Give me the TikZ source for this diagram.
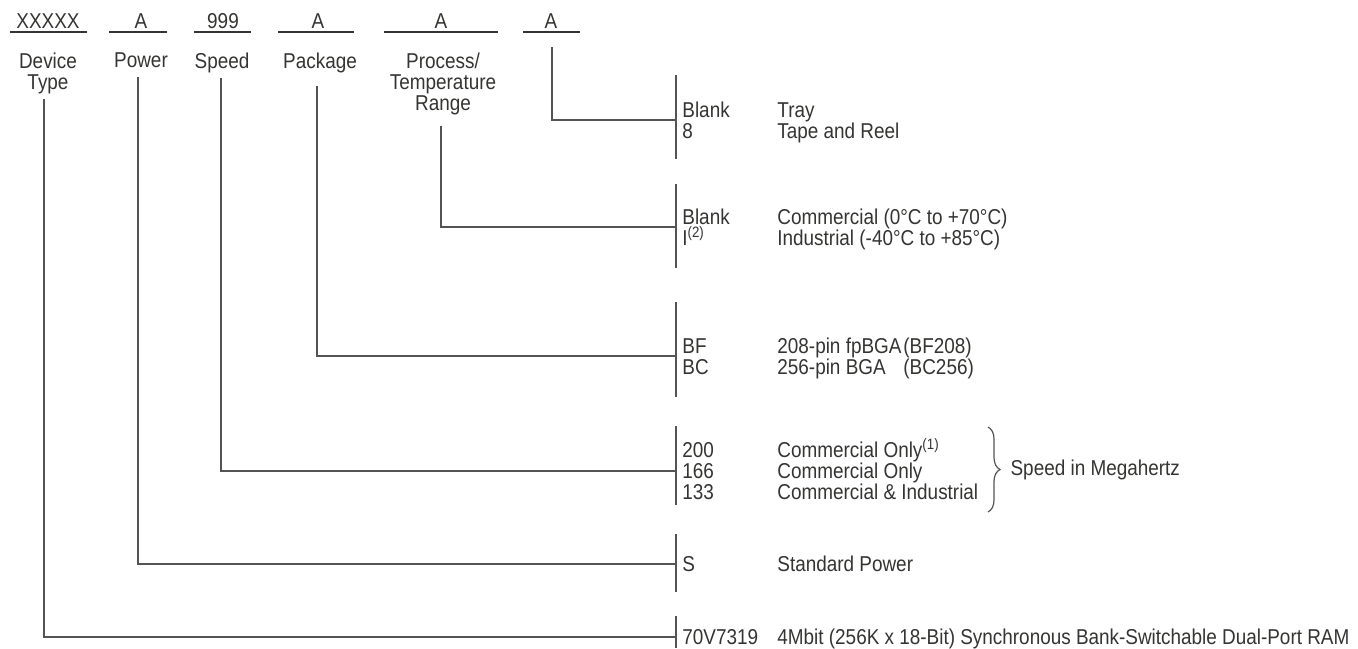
\documentclass[tikz,border=0pt]{standalone}
\usepackage{fontspec}
\setmainfont{Liberation Sans}[FakeStretch=0.88]
\usetikzlibrary{decorations.pathreplacing}
\definecolor{ink}{RGB}{52,52,50}
\definecolor{rulegray}{RGB}{84,84,82}
\newcommand\chartfont{\fontsize{10.75pt}{10.5pt}\selectfont}
\tikzset{
    partcode/.style={anchor=base},
    fieldname/.style={anchor=north, align=center},
    optcode/.style={anchor=base west},
    optdesc/.style={anchor=base west},
    lead/.style={draw=rulegray, line width=0.6pt},
    barline/.style={draw=rulegray, line width=0.6pt},
    underbar/.style={draw=ink, line width=0.6pt},
}
\begin{document}
\begin{tikzpicture}[
    x=0.5pt, y=-0.5pt,
    every node/.style={inner sep=0pt, text=ink, font=\chartfont}
]
\useasboundingbox (0,0) rectangle (1358,648);

% Part number fields
\foreach \t/\x/\n in {XXXXX/48/cdev, A/141/cpow, 999/223/cspd, A/318/cpkg, A/441/cproc, A/551/cship}
    \node[partcode] (\n) at (\x,28) {\t};
\foreach \l/\r in {10/87, 109/167, 194/251, 278/354, 384/498, 523/580}
    \draw[underbar] (\l,32) -- (\r,32);

% Field names
\node[fieldname] (fdev) at (48,52.5) {Device\\Type};
\node[fieldname] (fpow) at (141,52.5) {Power};
\node[fieldname] (fspd) at (222,52.5) {Speed};
\node[fieldname] (fpkg) at (320,52.5) {Package};
\node[fieldname] (fproc) at (443,52.5) {Process/\\Temperature\\Range};

% Option bars
\foreach \top/\bot in {75/159, 184/268, 302/397, 426/505, 534/592, 616/648}
    \draw[barline] (676,\top) -- (676,\bot);
\coordinate (jship) at (676,120);
\coordinate (jproc) at (676,227);
\coordinate (jpkg) at (676,356);
\coordinate (jspd) at (676,471);
\coordinate (jpow) at (676,564);
\coordinate (jdev) at (676,637);

% Leads from fields to bars
\draw[lead, shorten <=9.5pt] ([xshift=0.5pt]cship.south) |- (jship);
\draw[lead, shorten <=5.25pt] ([xshift=-1pt]fproc.south) |- (jproc);
\draw[lead, shorten <=6.25pt] ([xshift=-1.5pt]fpkg.south) |- (jpkg);
\draw[lead, shorten <=2.25pt] ([xshift=-0.5pt]fspd.south) |- (jspd);
\draw[lead, shorten <=4.5pt] ([xshift=-1.5pt]fpow.south) |- (jpow);
\draw[lead, shorten <=2.25pt] ([xshift=-2pt]fdev.south) |- (jdev);

% Packing
\foreach \c/\d [count=\i] in {Blank/Tray, 8/Tape and Reel}{
    \node[optcode] (ship-c\i) at (682,{96+21*\i}) {\c};
    \node[optdesc] (ship-d\i) at (777,{96+21*\i}) {\d};
}
% Process / temperature
\foreach \c/\d [count=\i] in {Blank/Commercial (0°C to +70°C), I\textsuperscript{(2)}/Industrial (-40°C to +85°C)}{
    \node[optcode] (proc-c\i) at (682,{203+21*\i}) {\c};
    \node[optdesc] (proc-d\i) at (777,{203+21*\i}) {\d};
}
% Package
\foreach \c/\d/\p [count=\i] in {BF/208-pin fpBGA/(BF208), BC/256-pin BGA/(BC256)}{
    \node[optcode] (pkg-c\i) at (682,{332+21*\i}) {\c};
    \node[optdesc] (pkg-d\i) at (777,{332+21*\i}) {\d};
    \node[optdesc] (pkg-p\i) at (903,{332+21*\i}) {\p};
}
% Speed
\foreach \c/\d [count=\i] in {200/Commercial Only\textsuperscript{(1)}, 166/Commercial Only, 133/Commercial \& Industrial}{
    \node[optcode] (spd-c\i) at (682,{436.5+21*\i}) {\c};
    \node[optdesc] (spd-d\i) at (777,{436.5+21*\i}) {\d};
}
\draw[barline, decorate, decoration={brace, amplitude=6pt}] (988,427) -- (988,512)
    node[midway, anchor=west, xshift=11pt] (spdnote) {Speed in Megahertz};
% Power
\node[optcode] (pow-c1) at (682,571.5) {S};
\node[optdesc] (pow-d1) at (777,571.5) {Standard Power};
% Device type
\node[optcode] (dev-c1) at (682,644.5) {70V7319};
\node[optdesc] (dev-d1) at (777,644.5) {4Mbit (256K x 18-Bit) Synchronous Bank-Switchable Dual-Port RAM};

\end{tikzpicture}
\end{document}
